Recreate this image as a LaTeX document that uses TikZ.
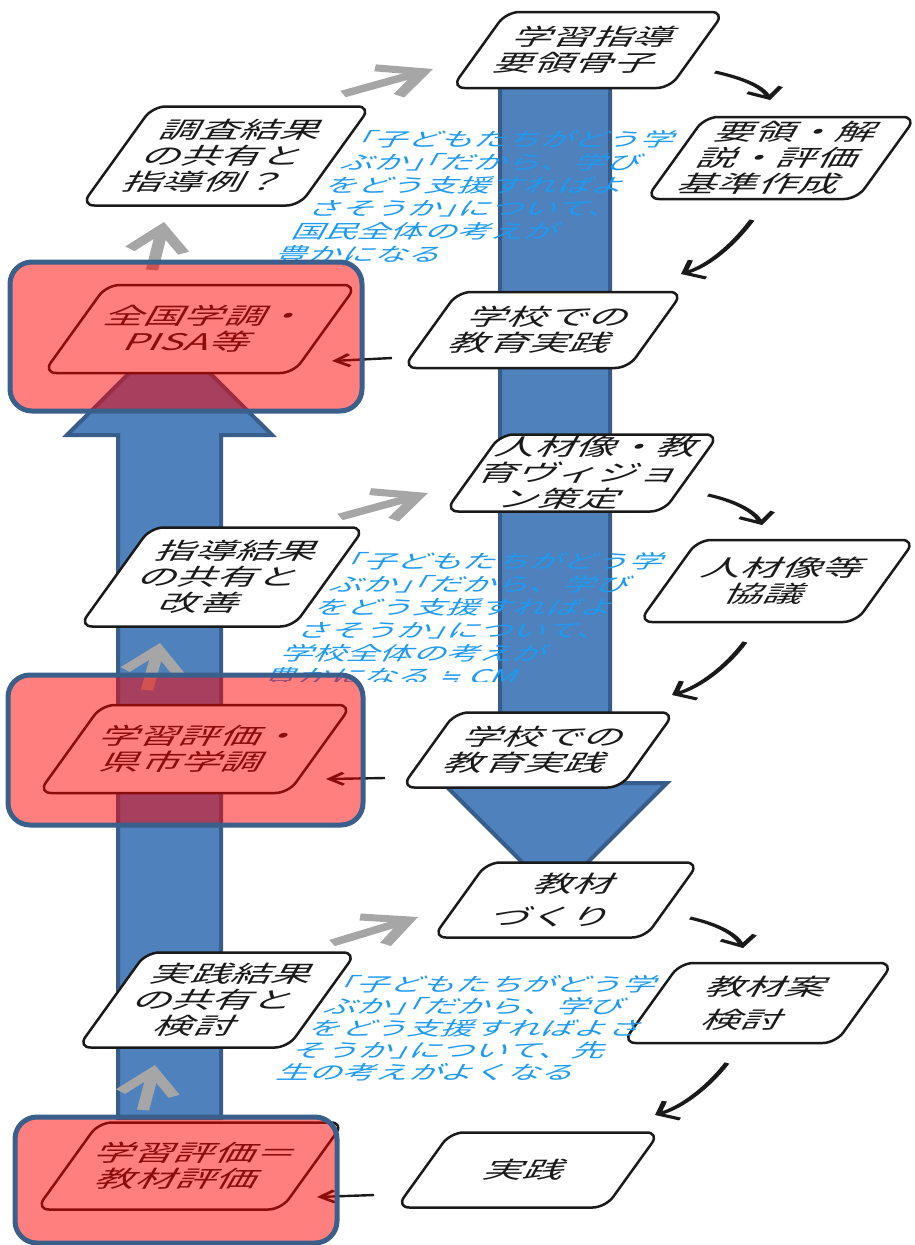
\documentclass[tikz,border=0pt]{standalone}
\usepackage{fontspec}
\newfontfamily\jpn[FakeStretch=1.75,FakeSlant=-0.15]{Noto Sans CJK JP}
\newfontfamily\symfont[FakeStretch=1.3,FakeSlant=-0.15]{DejaVu Sans}
\usetikzlibrary{arrows.meta}
\definecolor{arrowfill}{HTML}{4F81BD}
\definecolor{arrowline}{HTML}{385D8A}
\definecolor{frameline}{HTML}{3A5F8B}
\definecolor{notetext}{HTML}{1E9AF0}
\definecolor{flowgray}{HTML}{A6A6A6}
\definecolor{inkblack}{HTML}{1A1A1A}
% half-width corner brackets
\newcommand\openq{{\addfontfeature{RawFeature=+halt}「}}
\newcommand\closeq{{\addfontfeature{RawFeature=+halt}」}}

\begin{document}
\begin{tikzpicture}[x=1pt,y=-1pt,
  stepnode/.style={draw=inkblack, line width=2.5pt, fill=white, rounded corners=13pt,
    xslant=0.72, transform shape, inner sep=0pt, align=center, text=inkblack,
    font=\jpn\fontsize{23}{26}\selectfont},
  note/.style={text=notetext, xslant=0.72, transform shape, inner sep=0pt,
    anchor=north west, align=left, font=\jpn\fontsize{19}{23}\selectfont},
  bigarrow/.style={fill=arrowfill, draw=arrowline, line width=4pt, line join=miter},
  flowarrow/.style={draw=flowgray, line width=7pt, -{Straight Barb[length=23pt,width=31pt]}},
  steparrow/.style={draw=inkblack, line width=3pt, -{Straight Barb[length=9pt,width=20pt]}},
  backarrow/.style={draw=inkblack, line width=2.4pt, -{Straight Barb[length=8pt,width=12pt]}},
  frame/.style={fill=red, fill opacity=0.5, draw=frameline, draw opacity=1, line width=5pt,
    rounded corners=22pt, inner sep=0pt},
]
\useasboundingbox (0,0) rectangle (915,1245);

% wide blue arrows: downward on the right, upward on the left
\draw[bigarrow] (500,75) -- (610,75) -- (610,783) -- (667,783) -- (555,895)
  -- (443,783) -- (500,783) -- cycle;
\draw[bigarrow] (118,1118) -- (118,435) -- (67,435) -- (169.5,333) -- (272,435)
  -- (221,435) -- (221,1118) -- cycle;

% process steps
\node[stepnode, minimum width=218, minimum height=76] (n1) at (588,50) {学習指導\\要領骨子};
\node[stepnode, minimum width=211, minimum height=82] (n2) at (781,158) {要領・解\\説・評価\\基準作成};
\node[stepnode, minimum width=225, minimum height=76] (n3) at (543,330) {学校での\\教育実践};
\node[stepnode, minimum width=218, minimum height=99] (n4) at (226,156) {調査結果\\の共有と\\指導例？};
\node[stepnode, minimum width=218, minimum height=77] (n5) at (582,473) {人材像・教\\育ヴィジョ\\ン策定};
\node[stepnode, minimum width=217, minimum height=82] (n6) at (777,581) {人材像等\\協議};
\node[stepnode, minimum width=219, minimum height=75] (n7) at (538,750) {学校での\\教育実践};
\node[stepnode, minimum width=214, minimum height=99] (n8) at (222,577) {指導結果\\の共有と\\改善};
\node[stepnode, minimum width=212, minimum height=75] (n9) at (566,900) {教材\\[7pt]づくり};
\node[stepnode, minimum width=213, minimum height=80] (n10) at (758,1003) {教材案\\[7pt]検討};
\node[stepnode, minimum width=209, minimum height=75] (n11) at (528,1170) {実践};
\node[stepnode, minimum width=210, minimum height=95] (n12) at (217,1000) {実践結果\\の共有と\\検討};
\node[stepnode, minimum width=250, minimum height=88] (r1) at (200,329) {全国学調・\\PISA等};
\node[stepnode, minimum width=250, minimum height=88] (r2) at (195,749) {学習評価・\\県市学調};
\node[stepnode, minimum width=245, minimum height=87] (r3) at (190,1166) {学習評価＝\\教材評価};

% arrows, drawn in a horizontally stretched frame
\begin{scope}[transform canvas={xscale=1.75}, x=0.5714286pt]
  \coordinate (g1a) at (343,94);   \coordinate (g1b) at (433,69);
  \coordinate (g2a) at (152,270);  \coordinate (g2b) at (164,222);
  \coordinate (g3a) at (340,517);  \coordinate (g3b) at (428,493);
  \coordinate (g4a) at (147,690);  \coordinate (g4b) at (160,643);
  \coordinate (g5a) at (332,943);  \coordinate (g5b) at (418,917);
  \coordinate (g6a) at (143,1110); \coordinate (g6b) at (155,1065);
  \foreach \g in {1,...,6} \draw[flowarrow] (g\g a) -- (g\g b);

  \coordinate (a1a) at (715,72);   \coordinate (a1b) at (770,100);
  \coordinate (a2a) at (752,220);  \coordinate (a2b) at (681,274);
  \coordinate (a3a) at (708,495);  \coordinate (a3b) at (762,525);
  \coordinate (a4a) at (745,642);  \coordinate (a4b) at (672,695);
  \coordinate (a5a) at (690,918);  \coordinate (a5b) at (743,948);
  \coordinate (a6a) at (727,1063); \coordinate (a6b) at (655,1115);
  \draw[steparrow] (a1a) .. controls (742,78) and (762,86) .. (a1b);
  \draw[steparrow] (a2a) .. controls (734,244) and (709,266) .. (a2b);
  \draw[steparrow] (a3a) .. controls (735,501) and (754,511) .. (a3b);
  \draw[steparrow] (a4a) .. controls (727,666) and (700,687) .. (a4b);
  \draw[steparrow] (a5a) .. controls (717,924) and (736,934) .. (a5b);
  \draw[steparrow] (a6a) .. controls (709,1086) and (683,1107) .. (a6b);

  \coordinate (b1a) at (392,358);  \coordinate (b1b) at (332,361);
  \coordinate (b2a) at (385,778);  \coordinate (b2b) at (326,779);
  \coordinate (b3a) at (374,1195); \coordinate (b3b) at (317,1197);
  \foreach \b in {1,2,3} \draw[backarrow] (b\b a) -- (b\b b);
\end{scope}

% notes
\node[note] (t1) at (368,130) {\openq 子どもたちがどう学\\ぶか\closeq\openq だから、学び\\をどう支援すればよ\\さそうか\closeq について、\\国民全体の考えが\\豊かになる};
\begin{scope}
  \clip (0,0) rectangle (915,681);
  \node[note] (t2) at (357,552) {\openq 子どもたちがどう学\\ぶか\closeq\openq だから、学び\\をどう支援すればよ\\さそうか\closeq について、\\学校全体の考えが\\豊かになる\hspace{9pt}{\symfont ≒}\hspace{9pt}CM};
\end{scope}
\node[note, font=\jpn\fontsize{19}{22}\selectfont] (t3) at (350,975) {\openq 子どもたちがどう学\\ぶか\closeq\openq だから、学び\\をどう支援すればよさ\\そうか\closeq について、先\\生の考えがよくなる};

% translucent red frames over the assessment steps
\node[frame, minimum width=352, minimum height=149] (f1) at (186,336.5) {};
\node[frame, minimum width=355, minimum height=150] (f2) at (185.5,750) {};
\node[frame, minimum width=322, minimum height=126] (f3) at (176,1180) {};
\end{tikzpicture}
\end{document}
